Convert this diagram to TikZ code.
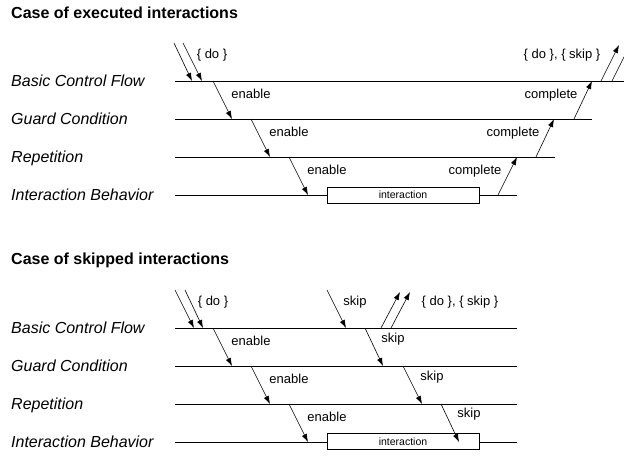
\documentclass[tikz,border=0pt]{standalone}
\usepackage{fontspec}
\setmainfont{Liberation Sans}
\usetikzlibrary{arrows.meta}

\begin{document}
\begin{tikzpicture}[x=1pt, y=-1pt,
        title/.style={font=\fontsize{16}{16}\selectfont\bfseries,
            anchor=base west, inner sep=0pt},
        lane/.style={font=\fontsize{16}{16}\selectfont\itshape,
            anchor=base west, inner sep=0pt},
        lbl/.style={font=\fontsize{13}{13}\selectfont,
            anchor=base, inner sep=0pt},
        laneline/.style={line width=0.8pt},
        flow/.style={-{Latex[length=8pt, width=5.5pt]}, line width=0.6pt},
        actbox/.style={draw, fill=white, line width=0.6pt,
            minimum width=152pt, minimum height=16pt, inner sep=0pt,
            font=\fontsize{10.5}{10.5}\selectfont}]
    \useasboundingbox (0, 0) rectangle (624, 456);

    % executed case
    \node[title] (ex-title) at (11, 18) {Case of executed interactions};
    \node[lane] (ex-bcf) at (11, 86) {Basic Control Flow};
    \node[lane] (ex-gc) at (11, 124) {Guard Condition};
    \node[lane] (ex-rep) at (11, 162) {Repetition};
    \node[lane] (ex-ib) at (11, 200) {Interaction Behavior};
    \draw[laneline] (175, 81) -- (624, 81);
    \draw[laneline] (175, 119) -- (592, 119);
    \draw[laneline] (175, 157) -- (555, 157);
    \draw[laneline] (175, 195) -- (517, 195);
    \node[actbox] (ex-int) at (403, 195) {interaction};

    \foreach \n/\xa/\ya/\xb/\yb in {
            ex-in1/174/43/192/81, ex-in2/183/43/202/81,
            ex-en1/213/81/232/119, ex-en2/251/119/270/157,
            ex-en3/289/157/308/195,
            ex-co1/498/195/517/157, ex-co2/536/157/554/119,
            ex-co3/574/119/592/81,
            ex-out1/601/81/619/45, ex-out2/612/81/630/45} {
        \coordinate (\n-s) at (\xa, \ya);
        \coordinate (\n-e) at (\xb, \yb);
        \draw[flow] (\n-s) -- (\n-e);
    }
    \node[lbl] (ex-do) at (212, 58) {\{ do \}};
    \node[lbl] (ex-l-en1) at (251, 98) {enable};
    \node[lbl] (ex-l-en2) at (289, 136) {enable};
    \node[lbl] (ex-l-en3) at (327, 174) {enable};
    \node[lbl] (ex-l-co1) at (475, 174) {complete};
    \node[lbl] (ex-l-co2) at (513, 136) {complete};
    \node[lbl] (ex-l-co3) at (551, 98) {complete};
    \node[lbl] (ex-out) at (562, 58) {\{ do \}, \{ skip \}};

    % skipped case
    \node[title] (sk-title) at (11, 264) {Case of skipped interactions};
    \node[lane] (sk-bcf) at (11, 333) {Basic Control Flow};
    \node[lane] (sk-gc) at (11, 371) {Guard Condition};
    \node[lane] (sk-rep) at (11, 409) {Repetition};
    \node[lane] (sk-ib) at (11, 447) {Interaction Behavior};
    \foreach \y in {328, 366, 404, 442}
        \draw[laneline] (175, \y) -- (517, \y);
    \node[actbox] (sk-int) at (403, 441.5) {interaction};

    \foreach \n/\xa/\ya/\xb/\yb in {
            sk-in1/175/290/194/328, sk-in2/185/290/203/328,
            sk-en1/213/328/232/366, sk-en2/251/366/270/404,
            sk-en3/289/404/308/442,
            sk-skin/327/290/346/328,
            sk-sk1/365/328/383/366, sk-sk2/403/366/422/404,
            sk-sk3/441/404/459/442,
            sk-out1/381/328/400/292, sk-out2/391/328/410/292} {
        \coordinate (\n-s) at (\xa, \ya);
        \coordinate (\n-e) at (\xb, \yb);
        \draw[flow] (\n-s) -- (\n-e);
    }
    \node[lbl] (sk-do) at (213, 305) {\{ do \}};
    \node[lbl] (sk-l-en1) at (251, 345) {enable};
    \node[lbl] (sk-l-en2) at (289, 383) {enable};
    \node[lbl] (sk-l-en3) at (327, 421) {enable};
    \node[lbl] (sk-l-skin) at (355, 305) {skip};
    \node[lbl] (sk-l-sk1) at (393, 342) {skip};
    \node[lbl] (sk-l-sk2) at (432, 380) {skip};
    \node[lbl] (sk-l-sk3) at (469, 417) {skip};
    \node[lbl] (sk-out) at (460, 305) {\{ do \}, \{ skip \}};
\end{tikzpicture}
\end{document}
